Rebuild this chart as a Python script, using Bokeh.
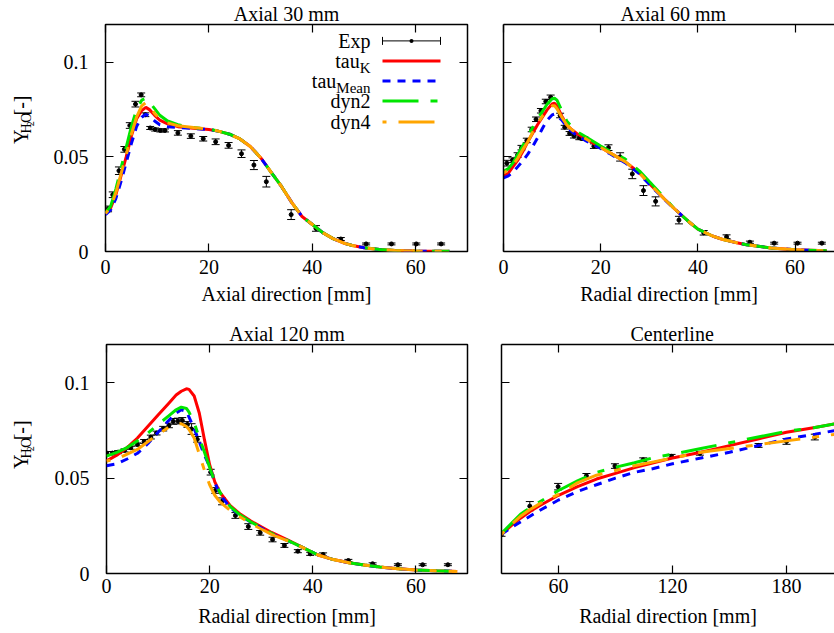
import numpy as np
from bokeh.plotting import figure
from bokeh.models import (ColumnDataSource, Whisker, TeeHead, Label, Arrow, LinearAxis,
                          FixedTicker, Range1d, BoxAnnotation)
from bokeh.layouts import column, row
from bokeh.embed import file_html
from bokeh.resources import INLINE
from bokeh.core.properties import value

# ---------------- data ----------------
titles = ["Axial 30 mm", "Axial 60 mm", "Axial 120 mm", "Centerline"]
xlabels = ["Axial direction [mm]", "Radial direction [mm]", "Radial direction [mm]", "Radial direction [mm]"]
y_ticks = [0, 0.05, 0.1]
y_tick_labels = ["0", "0.05", "0.1"]
x_ticks_a = [0, 20, 40, 60]
x_tick_labels_a = ["0", "20", "40", "60"]
x_ticks_c = [60, 120, 180]
x_tick_labels_c = ["60", "120", "180"]
legend_main = ["Exp", "tau", "tau", "dyn2", "dyn4"]
legend_sub = ["", "K", "Mean", "", ""]
ylabel_parts = ["Y", "H", "2", "O", "[-]"]

# Axial 30 mm
a30_exp_x = [0.5, 1.4, 2.6, 3.65, 4.7, 5.8, 6.9, 7.7, 8.65, 9.6, 10.6, 11.5, 14, 16.5, 18.9, 21.3, 23.8,
             26.3, 28.7, 31.1, 35.9, 40.7, 45.5, 50.4, 55.3, 60.1, 64.9]
a30_exp_y = [0.0225, 0.030, 0.0427, 0.054, 0.0666, 0.0779, 0.0828, 0.0723, 0.0653, 0.0645, 0.064, 0.064,
             0.0627, 0.061, 0.0596, 0.058, 0.0561, 0.0517, 0.0457, 0.0369, 0.0195, 0.0122, 0.0066, 0.004,
             0.004, 0.004, 0.004]
a30_exp_err = [0.0015, 0.0015, 0.002, 0.0015, 0.0015, 0.0015, 0.001, 0.001, 0.0008, 0.0008, 0.0008, 0.0008,
               0.0012, 0.0012, 0.0012, 0.0015, 0.0015, 0.002, 0.0024, 0.0028, 0.0026, 0.0015, 0.0008,
               0.0005, 0.0005, 0.0005, 0.0005]
a30_x = [0, 1, 2, 3, 4, 5, 6, 7, 7.8, 8.5, 9.5, 10.5, 12, 14, 17, 20, 22, 24, 26, 28, 30, 32, 34, 36, 38,
         40, 42, 44, 46, 48, 50, 53, 56, 60, 66.5]
a30_tail = [0.0635, 0.062, 0.0595, 0.0555, 0.0496, 0.042, 0.0345, 0.026, 0.0185, 0.0143, 0.010, 0.0068,
            0.0045, 0.003, 0.002, 0.001, 0.0005, 0.0002, 0.0001]
a30_tauK = [0.020, 0.023, 0.030, 0.040, 0.050, 0.061, 0.070, 0.0745, 0.0762, 0.075, 0.072, 0.0695, 0.0675,
            0.066, 0.0652, 0.0645] + a30_tail
a30_tauMean = [0.0195, 0.022, 0.028, 0.037, 0.047, 0.057, 0.066, 0.071, 0.0725, 0.0715, 0.069, 0.067, 0.066,
               0.0655, 0.065, 0.0645] + a30_tail
a30_dyn2 = [0.0205, 0.024, 0.033, 0.044, 0.055, 0.066, 0.075, 0.080, 0.081, 0.079, 0.0755, 0.072, 0.069,
            0.067, 0.0655, 0.0648] + a30_tail
a30_dyn4 = [0.020, 0.0235, 0.031, 0.041, 0.051, 0.062, 0.071, 0.077, 0.0787, 0.077, 0.073, 0.070, 0.068,
            0.0665, 0.0655, 0.0648] + a30_tail

# Axial 60 mm
a60_exp_x = [0.68, 1.85, 2.9, 3.7, 4.8, 5.8, 6.7, 7.7, 8.7, 9.7, 11.65, 12.6, 13.6, 14.5, 15.6, 16.6, 18.6,
             21.6, 24, 26.5, 28.8, 31.3, 36.1, 41.2, 45.9, 50.7, 55.7, 60.5, 65.5]
a60_exp_y = [0.0467, 0.0483, 0.051, 0.0549, 0.0587, 0.0645, 0.0699, 0.0744, 0.0793, 0.0815, 0.0719, 0.0657,
             0.0624, 0.061, 0.0601, 0.0597, 0.0557, 0.0549, 0.050, 0.041, 0.0322, 0.0265, 0.0166, 0.0099,
             0.0078, 0.0049, 0.0044, 0.0044, 0.0044]
a60_exp_err = [0.0015, 0.0012, 0.0012, 0.0012, 0.0012, 0.0012, 0.0012, 0.0012, 0.0012, 0.0012, 0.0012, 0.001,
               0.001, 0.001, 0.001, 0.001, 0.0012, 0.0015, 0.0022, 0.0025, 0.0026, 0.0024, 0.002, 0.0012,
               0.001, 0.0006, 0.0005, 0.0005, 0.0005]
a60_x = [0, 1, 2, 3, 4, 5, 6, 7, 8, 9, 10, 10.5, 11, 12, 13, 14, 15, 17, 20, 22, 25, 28, 30, 33, 35, 38, 40,
         43, 45, 48, 50, 55, 60, 66.5]
a60_tail = [0.023, 0.016, 0.0118, 0.0082, 0.0065, 0.0046, 0.0036, 0.0019, 0.0009, 0.0004]
a60_tauK = [0.040, 0.0415, 0.045, 0.0485, 0.053, 0.058, 0.0625, 0.067, 0.071, 0.075, 0.078, 0.0784, 0.077,
            0.0715, 0.067, 0.0645, 0.0625, 0.0595, 0.055, 0.052, 0.0475, 0.0415, 0.036, 0.028] + a60_tail
a60_tauMean = [0.0389, 0.040, 0.042, 0.045, 0.048, 0.0515, 0.0555, 0.060, 0.065, 0.0695, 0.0722, 0.0726,
               0.0718, 0.0695, 0.066, 0.0635, 0.0615, 0.0585, 0.0545, 0.0515, 0.047, 0.041, 0.0355,
               0.0278] + a60_tail
a60_dyn2 = [0.0423, 0.0438, 0.047, 0.0515, 0.056, 0.061, 0.0655, 0.070, 0.074, 0.078, 0.0808, 0.081, 0.080,
            0.0745, 0.069, 0.066, 0.0635, 0.0605, 0.0558, 0.053, 0.049, 0.0425, 0.037, 0.0288] + a60_tail
a60_dyn4 = [0.0415, 0.043, 0.046, 0.0495, 0.054, 0.058, 0.063, 0.0675, 0.0715, 0.075, 0.077, 0.077, 0.0755,
            0.071, 0.067, 0.0645, 0.0625, 0.0595, 0.055, 0.052, 0.0475, 0.0415, 0.036, 0.028] + a60_tail

# Axial 120 mm
a120_exp_x = [0.06, 1.16, 2.25, 3.5, 4.7, 6.0, 7.3, 8.6, 9.7, 11.0, 12.1, 12.95, 13.85, 14.7, 15.7, 16.5,
              17.6, 20.2, 21.1, 22.4, 25, 27.5, 29.8, 32.2, 34.5, 37.1, 39.5, 42, 46.9, 51.6, 56.5, 61.3, 66.2]
a120_exp_y = [0.0631, 0.0631, 0.0636, 0.0645, 0.0659, 0.0676, 0.0692, 0.0715, 0.0736, 0.0759, 0.0776, 0.0797,
              0.0799, 0.0802, 0.0781, 0.0757, 0.0703, 0.0531, 0.0435, 0.0378, 0.0304, 0.0246, 0.0213, 0.0178,
              0.0147, 0.0117, 0.0103, 0.010, 0.0068, 0.0051, 0.0046, 0.0046, 0.0046]
a120_exp_err = [0.0008, 0.0008, 0.0008, 0.0008, 0.0008, 0.0008, 0.001, 0.001, 0.001, 0.0012, 0.0012, 0.0015,
                0.0015, 0.0015, 0.0015, 0.0028, 0.0015, 0.0015, 0.0015, 0.0018, 0.0015, 0.0015, 0.0012,
                0.0012, 0.001, 0.0008, 0.0008, 0.0008, 0.0006, 0.0005, 0.0005, 0.0005, 0.0005]
a120_x = [0, 2, 4, 6, 8, 10, 12, 13.5, 14.5, 15.5, 16, 17, 18, 19, 20, 21, 22, 24, 26, 28, 30, 32, 35, 38,
          41, 44, 47, 50, 53, 56, 60, 64, 68]
a120_tail = [0.0137, 0.0097, 0.0073, 0.0056, 0.0044, 0.0034, 0.0026, 0.0018, 0.0014, 0.0011]
a120_tauK = [0.059, 0.062, 0.066, 0.071, 0.077, 0.083, 0.089, 0.0935, 0.0955, 0.0968, 0.0965, 0.093, 0.084,
             0.070, 0.057, 0.048, 0.0425, 0.0355, 0.031, 0.0275, 0.0245, 0.0215, 0.0178] + a120_tail
a120_tauMean = [0.0565, 0.0575, 0.060, 0.063, 0.068, 0.074, 0.080, 0.084, 0.0858, 0.085, 0.082, 0.076, 0.069,
                0.062, 0.056, 0.0475, 0.0415, 0.0345, 0.0303, 0.0268, 0.0238, 0.0208, 0.0174] + a120_tail
a120_dyn2 = [0.0615, 0.0635, 0.066, 0.0695, 0.0735, 0.078, 0.0825, 0.0858, 0.0872, 0.0865, 0.0846, 0.079,
             0.071, 0.0635, 0.0555, 0.048, 0.0425, 0.035, 0.0305, 0.027, 0.024, 0.021, 0.0175] + a120_tail
a120_dyn4 = [0.059, 0.060, 0.0625, 0.065, 0.069, 0.073, 0.0765, 0.0783, 0.0785, 0.077, 0.0755, 0.071, 0.0625,
             0.054, 0.0465, 0.041, 0.0375, 0.033, 0.0295, 0.0262, 0.0233, 0.0205, 0.0172] + a120_tail

# Centerline
cl_exp_x = [30, 44.9, 59.8, 74.7, 89.7, 104.6, 119.5, 134.4, 165.3, 180, 194.9]
cl_exp_y = [0.0205, 0.0353, 0.0455, 0.0512, 0.0563, 0.0596, 0.0614, 0.063, 0.0671, 0.0692, 0.0715]
cl_exp_err = [0.001, 0.0024, 0.0017, 0.0012, 0.0012, 0.001, 0.001, 0.001, 0.001, 0.0015, 0.0015]
cl_x = [30, 35, 40, 45, 50, 60, 70, 80, 90, 100, 110, 120, 135, 150, 165, 180, 195, 206]
cl_tauK = [0.0205, 0.025, 0.029, 0.0325, 0.0355, 0.041, 0.0455, 0.0495, 0.0525, 0.0555, 0.058, 0.0605,
           0.0635, 0.067, 0.0705, 0.074, 0.0765, 0.0785]
cl_tauMean = [0.0205, 0.024, 0.027, 0.030, 0.033, 0.0385, 0.043, 0.0465, 0.050, 0.053, 0.055, 0.0575, 0.0605,
              0.0635, 0.067, 0.0705, 0.073, 0.075]
cl_dyn2 = [0.021, 0.026, 0.031, 0.0345, 0.0375, 0.0435, 0.0485, 0.053, 0.0557, 0.058, 0.0607, 0.0625, 0.0655,
           0.0685, 0.0715, 0.0745, 0.0765, 0.0785]
cl_dyn4 = [0.0205, 0.0255, 0.030, 0.0335, 0.0365, 0.0415, 0.0475, 0.0515, 0.054, 0.0565, 0.0585, 0.0605,
           0.0635, 0.0655, 0.0675, 0.0695, 0.0715, 0.073]

# ---------------- style ----------------
FONT = "Liberation Serif"
FS = "20px"
LSUB = "15px"
STYLES = [  # color, dash, offset
    ("#ff0000", "solid", 0),
    ("#0000ff", "8 7", 0),
    ("#00e600", "36 12 7 12", 0),
    ("#ffa500", "36 12 7 12", 51),
]


def add_axis(p, side, ticks, labels=None, standoff=0, line=False, axis_label=None, label_standoff=0):
    ax = LinearAxis(ticker=FixedTicker(ticks=ticks, minor_ticks=[]))
    ax.major_tick_in = 8
    ax.major_tick_out = 0
    ax.major_tick_line_color = "black"
    ax.major_tick_line_width = 1.2
    ax.minor_tick_line_color = None
    ax.axis_line_color = "black" if line else None
    ax.axis_line_width = 1.5
    if labels is None:
        ax.major_label_text_font_size = "0px"
        ax.major_label_standoff = 0
        ax.major_label_overrides = {t: "" for t in ticks}
    else:
        ax.major_label_text_font = FONT
        ax.major_label_text_font_size = FS
        ax.major_label_text_color = "black"
        ax.major_label_standoff = int(standoff)
        ax.major_label_overrides = dict(zip(ticks, labels))
    if axis_label:
        ax.axis_label = axis_label
        ax.axis_label_text_font = FONT
        ax.axis_label_text_font_size = FS
        ax.axis_label_text_font_style = "normal"
        ax.axis_label_text_color = "black"
        ax.axis_label_standoff = int(label_standoff)
    p.add_layout(ax, side)
    return ax


def label(p, x, y, s, size=FS, align="left", baseline="middle"):
    p.add_layout(Label(x=x, y=y, x_units="screen", y_units="screen", text=s, text_font=FONT,
                       text_font_size=size, text_align=align, text_baseline=baseline,
                       text_color="black"))


def make_panel(width, height, mbl, mbr, mbt, mbb, xr, xticks, xticklabels, left_col, title,
               title_offset, xlabel, tick_standoff, label_standoff, exp, models):
    fw = width - mbl - mbr
    fh = height - mbt - mbb
    p = figure(width=width, height=height, x_range=Range1d(*xr), y_range=Range1d(0, 0.12),
               output_backend="svg", toolbar_location=None, x_axis_type=None, y_axis_type=None,
               min_border_left=mbl, min_border_right=mbr, min_border_top=mbt, min_border_bottom=mbb,
               background_fill_color="white", border_fill_color="white", title=title)
    p.title.text_font = FONT
    p.title.text_font_size = FS
    p.title.text_font_style = "normal"
    p.title.text_color = "black"
    p.title.standoff = 0
    if title_offset is None:
        p.title.align = "center"
    else:
        p.title.align = "left"
        p.title.offset = title_offset
    if left_col:
        p.outline_line_color = "black"
        p.outline_line_width = 1.5
        add_axis(p, "below", xticks, xticklabels, tick_standoff, axis_label=xlabel,
                 label_standoff=label_standoff)
        add_axis(p, "left", y_ticks, y_tick_labels, 17)
        add_axis(p, "above", xticks)
        add_axis(p, "right", y_ticks)
    else:
        p.outline_line_color = None
        add_axis(p, "below", xticks, xticklabels, tick_standoff, line=True, axis_label=xlabel,
                 label_standoff=label_standoff)
        add_axis(p, "left", y_ticks, line=True)
        add_axis(p, "above", xticks, line=True)

    ex, ey, ee = exp
    src = ColumnDataSource(dict(x=ex, y=ey, upper=[a + b for a, b in zip(ey, ee)],
                                lower=[a - b for a, b in zip(ey, ee)]))
    p.add_layout(Whisker(source=src, base="x", upper="upper", lower="lower", dimension="height",
                         line_color="black", line_width=1, level="underlay",
                         upper_head=TeeHead(size=8, line_color="black", line_width=1),
                         lower_head=TeeHead(size=8, line_color="black", line_width=1)))
    p.scatter("x", "y", source=src, size=4, color="black")

    mx = models[0]
    for ys, (col, dash, off) in zip(models[1:], STYLES):
        p.line(mx, ys, line_color=col, line_width=3, line_dash=dash, line_dash_offset=off,
               line_cap="butt")
    return p, fw, fh


def ylabel_fig(width, height, center_up):
    # a narrow strip whose data units are pixels; holds the rotated label Y_{H2O}[-]
    f = figure(width=width, height=height, x_range=Range1d(0, width), y_range=Range1d(0, height),
               output_backend="svg", toolbar_location=None, x_axis_type=None, y_axis_type=None,
               min_border=0, outline_line_color=None, background_fill_color="white",
               border_fill_color="white")
    sizes = [FS, "14px", "10px", "14px", FS]
    px = [20, 14, 10, 14, 20]
    shifts = [0.0, 3.5, 5.5, 3.5, 0.0]
    widths = [14.4, 10.1, 5.0, 10.1, 20.0]
    base_x = 27.5
    xs, ys = [], []
    yc = center_up - sum(widths) / 2
    for shift, w, fpx in zip(shifts, widths, px):
        xs.append(base_x + shift - 0.34 * fpx)
        ys.append(yc)
        yc += w
    src = ColumnDataSource(dict(x=xs, y=ys, text=ylabel_parts, size=sizes))
    f.text(x="x", y="y", text="text", source=src, angle=np.pi / 2, text_font=value(FONT),
           text_font_size="size", text_align="left", text_baseline="middle", text_color="black")
    return f


YW = 40
W1, W2 = 445, 349
H1, H2 = 316, 317

p1, fw1, fh1 = make_panel(W1, H1, 65, 18, 22, 65, (0, 70), x_ticks_a, x_tick_labels_a, True, titles[0],
                          None, xlabels[0], 8, 6, (a30_exp_x, a30_exp_y, a30_exp_err),
                          [a30_x, a30_tauK, a30_tauMean, a30_dyn2, a30_dyn4])
p2, fw2, fh2 = make_panel(W2, H1, 18, 0, 22, 65, (0, 331 / 4.86), x_ticks_a, x_tick_labels_a, False,
                          titles[1], 117, xlabels[1], 8, 6, (a60_exp_x, a60_exp_y, a60_exp_err),
                          [a60_x, a60_tauK, a60_tauMean, a60_dyn2, a60_dyn4])
p3, fw3, fh3 = make_panel(W1, H2, 66, 18, 28, 60, (0, 70), x_ticks_a, x_tick_labels_a, True, titles[2],
                          None, xlabels[2], 5, 9, (a120_exp_x, a120_exp_y, a120_exp_err),
                          [a120_x, a120_tauK, a120_tauMean, a120_dyn2, a120_dyn4])
p4, fw4, fh4 = make_panel(W2, H2, 16, 0, 28, 60, (30, 30 + 333 / 1.9), x_ticks_c, x_tick_labels_c, False,
                          titles[3], 129, xlabels[3], 5, 9, (cl_exp_x, cl_exp_y, cl_exp_err),
                          [cl_x, cl_tauK, cl_tauMean, cl_dyn2, cl_dyn4])

y1 = ylabel_fig(YW, H1, H1 - 22 - fh1 / 2)
y3 = ylabel_fig(YW, H2, H2 - 28 - fh3 / 2)

# ---------------- legend (top-left panel) ----------------
row_off = [18.4, 38.4, 58.4, 78.4, 99.4]
sub_w = {"K": 10.8, "Mean": 34.2, "": 0.0}
tx = 265
sx0, sx1 = 277, 335
for i, (m, s) in enumerate(zip(legend_main, legend_sub)):
    yy = fh1 - row_off[i]
    label(p1, tx - sub_w[s], yy, m, align="right")
    if s:
        label(p1, tx, yy - 6.7, s, size=LSUB, align="right")
    if i == 0:
        p1.add_layout(Arrow(x_start=sx0, y_start=yy, x_end=sx1, y_end=yy, start_units="screen",
                            end_units="screen", line_color="black", line_width=1,
                            start=TeeHead(size=8, line_color="black", line_width=1),
                            end=TeeHead(size=8, line_color="black", line_width=1)))
        p1.add_layout(BoxAnnotation(left=(sx0 + sx1) / 2 - 2, right=(sx0 + sx1) / 2 + 2, bottom=yy - 2,
                                    top=yy + 2, left_units="screen", right_units="screen",
                                    bottom_units="screen", top_units="screen", fill_color="black",
                                    fill_alpha=1, line_color=None, border_radius=2))
    else:
        col, dash, off = STYLES[i - 1]
        p1.add_layout(Arrow(x_start=sx0, y_start=yy, x_end=sx1, y_end=yy, start_units="screen",
                            end_units="screen", line_color=col, line_width=3, line_dash=dash,
                            line_dash_offset=off, start=None, end=None))

layout = column(row(y1, p1, p2), row(y3, p3, p4))
open("out.html", "w").write(file_html(layout, INLINE))
